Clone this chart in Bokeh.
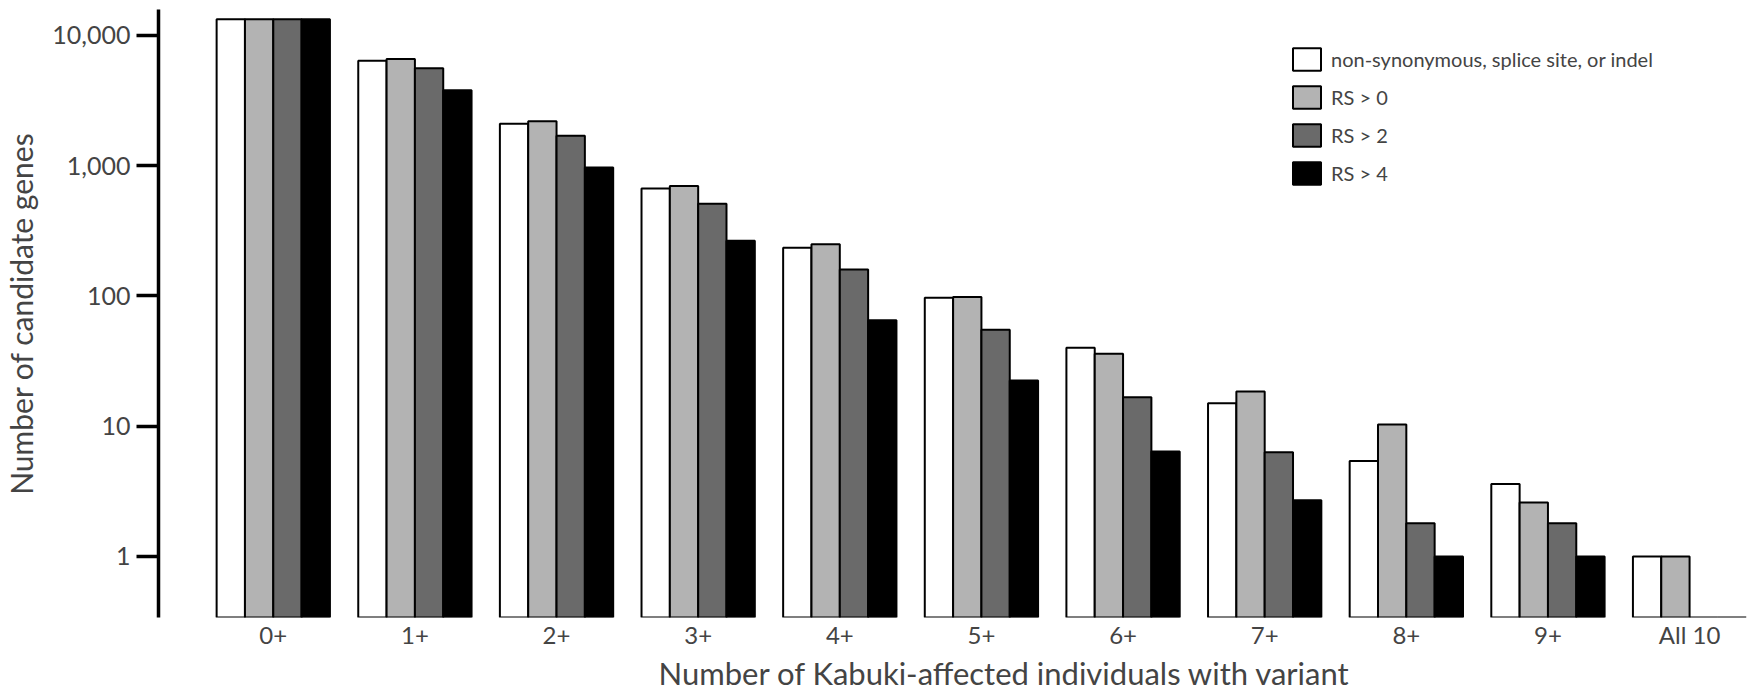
import numpy as np
from bokeh.plotting import figure
from bokeh.models import (Range1d, FixedTicker, NumeralTickFormatter, Title,
                          Legend, LegendItem)
from bokeh.embed import file_html
from bokeh.resources import INLINE

# ---------------- data ----------------
categories = ["0+", "1+", "2+", "3+", "4+", "5+", "6+", "7+", "8+", "9+", "All 10"]
series_names = ["non-synonymous, splice site, or indel", "RS > 0", "RS > 2", "RS > 4"]
nonsyn = [13300, 6400, 2100, 670, 235, 97, 40, 15, 5.4, 3.6, 1]
rs_gt0 = [13300, 6600, 2200, 700, 250, 98, 36, 18.5, 10.3, 2.6, 1]
rs_gt2 = [13300, 5600, 1700, 510, 160, 55, 16.7, 6.3, 1.8, 1.8, 0]
rs_gt4 = [13300, 3800, 970, 265, 65, 22.4, 6.4, 2.7, 1.0, 1.0, 0]
y_ticks = [1, 10, 100, 1000, 10000]
x_title = "Number of Kabuki-affected individuals with variant"
y_title = "Number of candidate genes"

colors = ["#ffffff", "#b3b3b3", "#6a6a6a", "#000000"]
FONT = "Lato"

y_bottom = 0.34
p = figure(width=1748, height=696, y_axis_type="log",
           x_range=Range1d(-0.8104, 10.416), y_range=Range1d(y_bottom, 15830),
           output_backend="svg", toolbar_location=None,
           min_border_left=155, min_border_right=0, min_border_top=9,
           min_border_bottom=79)
p.outline_line_color = None
p.grid.visible = False
p.background_fill_color = "white"

bar_w = 0.2
idx = np.arange(len(categories))
renderers = []
for j, (vals, col) in enumerate(zip([nonsyn, rs_gt0, rs_gt2, rs_gt4], colors)):
    tops = [max(v, y_bottom) for v in vals]
    r = p.vbar(x=idx + (j - 1.5) * bar_w, top=tops, bottom=y_bottom, width=bar_w,
               fill_color=col, line_color="black", line_width=2)
    renderers.append(r)

# y axis
ya = p.yaxis[0]
ya.ticker = FixedTicker(ticks=y_ticks, minor_ticks=[])
ya.formatter = NumeralTickFormatter(format="0,0")
ya.axis_line_width = 3.5
ya.major_tick_line_width = 3.5
ya.major_tick_out = 22
ya.major_tick_in = 0
ya.minor_tick_line_color = None
ya.major_label_text_font = FONT
ya.major_label_text_font_size = "25px"
ya.major_label_standoff = 6
ya.axis_label = y_title
ya.axis_label_text_font = FONT
ya.axis_label_text_font_size = "30px"
ya.axis_label_text_font_style = "normal"
ya.axis_label_standoff = 10

# x axis
xa = p.xaxis[0]
xa.ticker = FixedTicker(ticks=list(range(len(categories))))
xa.major_label_overrides = {i: c for i, c in enumerate(categories)}
xa.axis_line_color = None
xa.major_tick_line_color = None
xa.major_tick_out = 0
xa.major_tick_in = 0
xa.minor_tick_line_color = None
xa.major_label_text_font = FONT
xa.major_label_text_font_size = "24px"
xa.major_label_standoff = 2

# x-axis title (left-aligned with an offset, as in the original)
p.add_layout(Title(text=x_title, align="left", offset=500, text_font=FONT,
                   text_font_size="31px", text_font_style="normal",
                   standoff=0), "below")

legend = Legend(items=[LegendItem(label=n, renderers=[r])
                       for n, r in zip(series_names, renderers)],
                location=(1131, 430), glyph_width=35, glyph_height=28,
                spacing=10, padding=0, margin=0, label_standoff=7,
                label_text_font=FONT, label_text_font_size="20px",
                border_line_color=None, background_fill_alpha=0)
p.add_layout(legend)

open("out.html", "w").write(file_html(p, INLINE))
